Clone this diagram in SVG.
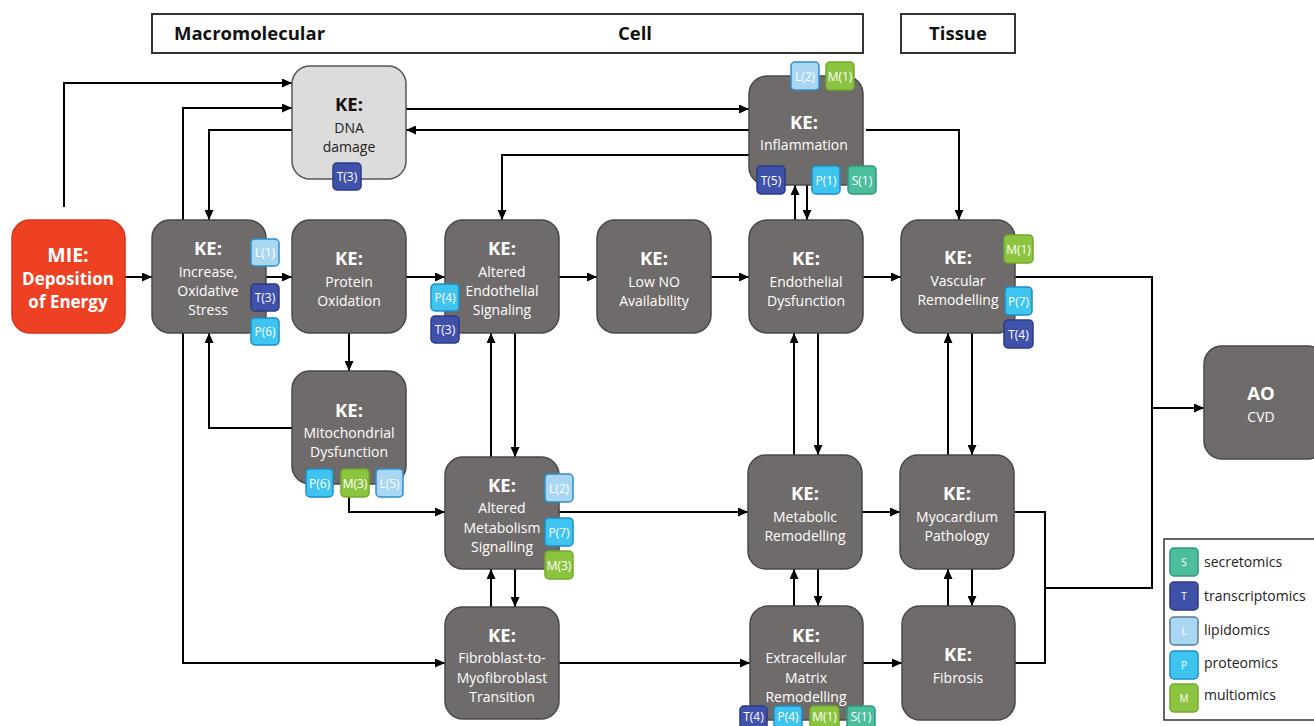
<svg xmlns="http://www.w3.org/2000/svg" width="1314" height="726" viewBox="0 0 1314 726">
<defs>
<marker id="ah" markerWidth="10" markerHeight="9" refX="10" refY="4.5" orient="auto" markerUnits="userSpaceOnUse">
<path d="M0,0 L10,4.5 L0,9 z" fill="#000"/>
</marker>
<style>
.hdr{fill:#fff;stroke:#333;stroke-width:2}
.ht{font-family:"Open Sans","Liberation Sans",sans-serif;font-weight:bold;font-size:18.5px;fill:#111}
.node{fill:#6f6b6a;stroke:#4a4848;stroke-width:1.5}
.dna{fill:#dcdcdc;stroke:#555;stroke-width:1.5}
.mie{fill:#ee4023;stroke:#d8361a;stroke-width:1.5}
.ke{font-family:"Open Sans","Liberation Sans",sans-serif;font-weight:bold;font-size:18.5px;fill:#fff;text-anchor:middle}
.tx{font-family:"Open Sans","Liberation Sans",sans-serif;font-size:14px;fill:#fff;text-anchor:middle}
.kd{font-family:"Open Sans","Liberation Sans",sans-serif;font-weight:bold;font-size:18.5px;fill:#111;text-anchor:middle}
.td{font-family:"Open Sans","Liberation Sans",sans-serif;font-size:14px;fill:#222;text-anchor:middle}
.mt{font-family:"Open Sans","Liberation Sans",sans-serif;font-weight:bold;fill:#fff;text-anchor:middle}
.bS{fill:#4dbe9d;stroke:#2e9a7b;stroke-width:1.5}
.bT{fill:#3f51a8;stroke:#2b3a8a;stroke-width:1.5}
.bL{fill:#a9d6f2;stroke:#2c8fd0;stroke-width:1.5}
.bP{fill:#3ec4ef;stroke:#1c8fc8;stroke-width:1.5}
.bM{fill:#8dc43f;stroke:#72aa2a;stroke-width:1.5}
.bt{font-family:"Open Sans","Liberation Sans",sans-serif;font-size:12px;fill:#fff;text-anchor:middle}
.lt{font-family:"Open Sans","Liberation Sans",sans-serif;font-size:14px;fill:#222}
.ll{font-family:"Open Sans","Liberation Sans",sans-serif;font-size:10px;fill:#fff;text-anchor:middle}
.c{fill:none;stroke:#000;stroke-width:2}
.ca{fill:none;stroke:#000;stroke-width:2;marker-end:url(#ah)}
</style>
</defs>
<rect width="1314" height="726" fill="#fff"/>

<g id="headers">
<rect class="hdr" x="152" y="14" width="711" height="39"/>
<text class="ht" x="174" y="40">Macromolecular</text>
<text class="ht" x="635" y="40" text-anchor="middle">Cell</text>
<rect class="hdr" x="901" y="14" width="114" height="39"/>
<text class="ht" x="958" y="40" text-anchor="middle">Tissue</text>
</g>

<g id="connectors">
<polyline class="ca" points="64,207 64,83 292,83"/>
<polyline class="ca" points="183,220 183,108 292,108"/>
<polyline class="ca" points="292,130 209,130 209,220"/>
<line class="ca" x1="125" y1="277" x2="152" y2="277"/>
<line class="ca" x1="266" y1="277" x2="292" y2="277"/>
<line class="ca" x1="406" y1="277" x2="445" y2="277"/>
<line class="ca" x1="559" y1="277" x2="597" y2="277"/>
<line class="ca" x1="711" y1="277" x2="749" y2="277"/>
<line class="ca" x1="863" y1="277" x2="901" y2="277"/>
<line class="ca" x1="406" y1="109" x2="749" y2="109"/>
<line class="ca" x1="749" y1="130" x2="406" y2="130"/>
<polyline class="ca" points="749,155 502,155 502,220"/>
<line class="ca" x1="795" y1="220" x2="795" y2="185"/>
<line class="ca" x1="807" y1="185" x2="807" y2="220"/>
<polyline class="ca" points="866,130 959,130 959,220"/>
<polyline class="c" points="1015,277 1152,277 1152,588 1045,588"/>
<line class="ca" x1="1152" y1="408" x2="1204" y2="408"/>
<polyline class="c" points="1015,512 1045,512 1045,663 1015,663"/>
<line class="ca" x1="349" y1="333" x2="349" y2="371"/>
<polyline class="ca" points="292,428 209,428 209,333"/>
<polyline class="ca" points="349,497 349,512 445,512"/>
<polyline class="ca" points="183,333 183,663 445,663"/>
<line class="ca" x1="491" y1="457" x2="491" y2="333"/>
<line class="ca" x1="515" y1="333" x2="515" y2="457"/>
<line class="ca" x1="491" y1="607" x2="491" y2="569"/>
<line class="ca" x1="515" y1="569" x2="515" y2="607"/>
<line class="ca" x1="559" y1="512" x2="748" y2="512"/>
<line class="ca" x1="559" y1="663" x2="750" y2="663"/>
<line class="ca" x1="794" y1="455" x2="794" y2="333"/>
<line class="ca" x1="818" y1="333" x2="818" y2="455"/>
<line class="ca" x1="794" y1="606" x2="794" y2="569"/>
<line class="ca" x1="818" y1="569" x2="818" y2="606"/>
<line class="ca" x1="862" y1="512" x2="900" y2="512"/>
<line class="ca" x1="863" y1="663" x2="902" y2="663"/>
<line class="ca" x1="948" y1="455" x2="948" y2="333"/>
<line class="ca" x1="972" y1="333" x2="972" y2="455"/>
<line class="ca" x1="948" y1="606" x2="948" y2="569"/>
<line class="ca" x1="972" y1="569" x2="972" y2="606"/>
</g>

<g id="mie">
<rect class="mie" x="12" y="220" width="113" height="113" rx="18"/>
<text class="mt" x="68" y="262" font-size="19.5px">MIE:</text>
<text class="mt" x="68" y="285" font-size="17px">Deposition</text>
<text class="mt" x="68" y="308" font-size="17px">of Energy</text>
</g>

<g id="ke-oxidative-stress">
<rect class="node" x="152" y="220" width="114" height="113" rx="18"/>
<text class="ke" x="208" y="255">KE:</text>
<text class="tx" x="208" y="277">Increase,</text>
<text class="tx" x="208" y="296">Oxidative</text>
<text class="tx" x="208" y="315">Stress</text>
<rect class="bL" x="251" y="239" width="28" height="27" rx="4"/><text class="bt" x="265" y="257">L(1)</text>
<rect class="bT" x="251" y="284" width="28" height="27" rx="4"/><text class="bt" x="265" y="302">T(3)</text>
<rect class="bP" x="251" y="318" width="28" height="27" rx="4"/><text class="bt" x="265" y="336">P(6)</text>
</g>

<g id="ke-dna-damage">
<rect class="dna" x="292" y="66" width="114" height="113" rx="18"/>
<text class="kd" x="349" y="111">KE:</text>
<text class="td" x="349" y="133">DNA</text>
<text class="td" x="349" y="152">damage</text>
<rect class="bT" x="333" y="163" width="28" height="27" rx="4"/><text class="bt" x="347" y="181">T(3)</text>
</g>

<g id="ke-protein-oxidation">
<rect class="node" x="292" y="220" width="114" height="113" rx="18"/>
<text class="ke" x="349" y="265">KE:</text>
<text class="tx" x="349" y="287">Protein</text>
<text class="tx" x="349" y="306">Oxidation</text>
</g>

<g id="ke-altered-endothelial">
<rect class="node" x="445" y="220" width="114" height="113" rx="18"/>
<text class="ke" x="502" y="255">KE:</text>
<text class="tx" x="502" y="277">Altered</text>
<text class="tx" x="502" y="296">Endothelial</text>
<text class="tx" x="502" y="315">Signaling</text>
<rect class="bP" x="431" y="284" width="28" height="27" rx="4"/><text class="bt" x="445" y="302">P(4)</text>
<rect class="bT" x="431" y="316" width="28" height="27" rx="4"/><text class="bt" x="445" y="334">T(3)</text>
</g>

<g id="ke-low-no">
<rect class="node" x="597" y="220" width="114" height="113" rx="18"/>
<text class="ke" x="654" y="265">KE:</text>
<text class="tx" x="654" y="287">Low NO</text>
<text class="tx" x="654" y="306">Availability</text>
</g>

<g id="ke-endothelial-dysfunction">
<rect class="node" x="749" y="220" width="114" height="113" rx="18"/>
<text class="ke" x="806" y="265">KE:</text>
<text class="tx" x="806" y="287">Endothelial</text>
<text class="tx" x="806" y="306">Dysfunction</text>
</g>

<g id="ke-inflammation">
<rect class="node" x="749" y="76" width="114" height="109" rx="18"/>
<text class="ke" x="804" y="129">KE:</text>
<text class="tx" x="804" y="150">Inflammation</text>
<rect class="bL" x="791" y="62" width="28" height="28" rx="4"/><text class="bt" x="805" y="81">L(2)</text>
<rect class="bM" x="826" y="62" width="28" height="28" rx="4"/><text class="bt" x="840" y="81">M(1)</text>
<rect class="bT" x="757" y="166" width="28" height="28" rx="4"/><text class="bt" x="771" y="185">T(5)</text>
<rect class="bP" x="812" y="166" width="28" height="28" rx="4"/><text class="bt" x="826" y="185">P(1)</text>
<rect class="bS" x="848" y="166" width="28" height="28" rx="4"/><text class="bt" x="862" y="185">S(1)</text>
</g>

<g id="ke-vascular-remodelling">
<rect class="node" x="901" y="220" width="114" height="113" rx="18"/>
<text class="ke" x="958" y="264">KE:</text>
<text class="tx" x="958" y="286">Vascular</text>
<text class="tx" x="958" y="305">Remodelling</text>
<rect class="bM" x="1004" y="235" width="29" height="28" rx="4"/><text class="bt" x="1018.5" y="254">M(1)</text>
<rect class="bP" x="1005" y="287" width="27" height="28" rx="4"/><text class="bt" x="1018.5" y="306">P(7)</text>
<rect class="bT" x="1004" y="320" width="29" height="28" rx="4"/><text class="bt" x="1018.5" y="339">T(4)</text>
</g>

<g id="ao-cvd">
<rect class="node" x="1204" y="346" width="122" height="113" rx="18"/>
<text class="ke" x="1261" y="400">AO</text>
<text class="tx" x="1261" y="422">CVD</text>
</g>

<g id="ke-mitochondrial-dysfunction">
<rect class="node" x="292" y="371" width="114" height="113" rx="18"/>
<text class="ke" x="349" y="417">KE:</text>
<text class="tx" x="349" y="438">Mitochondrial</text>
<text class="tx" x="349" y="457">Dysfunction</text>
<rect class="bP" x="306" y="469" width="27" height="28" rx="4"/><text class="bt" x="319.5" y="488">P(6)</text>
<rect class="bM" x="341" y="469" width="28" height="28" rx="4"/><text class="bt" x="355" y="488">M(3)</text>
<rect class="bL" x="376" y="469" width="27" height="28" rx="4"/><text class="bt" x="389.5" y="488">L(5)</text>
</g>

<g id="ke-altered-metabolism">
<rect class="node" x="445" y="457" width="114" height="112" rx="18"/>
<text class="ke" x="502" y="492">KE:</text>
<text class="tx" x="502" y="513">Altered</text>
<text class="tx" x="502" y="533">Metabolism</text>
<text class="tx" x="502" y="552">Signalling</text>
<rect class="bL" x="545" y="474" width="28" height="28" rx="4"/><text class="bt" x="559" y="493">L(2)</text>
<rect class="bP" x="545" y="518" width="28" height="28" rx="4"/><text class="bt" x="559" y="537">P(7)</text>
<rect class="bM" x="545" y="551" width="28" height="28" rx="4"/><text class="bt" x="559" y="570">M(3)</text>
</g>

<g id="ke-fibroblast">
<rect class="node" x="445" y="607" width="114" height="112" rx="18"/>
<text class="ke" x="502" y="642">KE:</text>
<text class="tx" x="502" y="663">Fibroblast-to-</text>
<text class="tx" x="502" y="683">Myofibroblast</text>
<text class="tx" x="502" y="702">Transition</text>
</g>

<g id="ke-metabolic-remodelling">
<rect class="node" x="748" y="455" width="114" height="114" rx="18"/>
<text class="ke" x="805" y="500">KE:</text>
<text class="tx" x="805" y="522">Metabolic</text>
<text class="tx" x="805" y="541">Remodelling</text>
</g>

<g id="ke-myocardium">
<rect class="node" x="900" y="455" width="114" height="114" rx="18"/>
<text class="ke" x="957" y="500">KE:</text>
<text class="tx" x="957" y="522">Myocardium</text>
<text class="tx" x="957" y="541">Pathology</text>
</g>

<g id="ke-ecm">
<rect class="node" x="750" y="606" width="113" height="114" rx="18"/>
<text class="ke" x="806" y="642">KE:</text>
<text class="tx" x="806" y="663">Extracellular</text>
<text class="tx" x="806" y="683">Matrix</text>
<text class="tx" x="806" y="702">Remodelling</text>
<rect class="bT" x="740" y="706" width="27" height="28" rx="4"/><text class="bt" x="753.5" y="721">T(4)</text>
<rect class="bP" x="774" y="706" width="28" height="28" rx="4"/><text class="bt" x="788" y="721">P(4)</text>
<rect class="bM" x="810" y="706" width="29" height="28" rx="4"/><text class="bt" x="824.5" y="721">M(1)</text>
<rect class="bS" x="847" y="706" width="28" height="28" rx="4"/><text class="bt" x="861" y="721">S(1)</text>
</g>

<g id="ke-fibrosis">
<rect class="node" x="902" y="606" width="113" height="114" rx="18"/>
<text class="ke" x="958" y="661">KE:</text>
<text class="tx" x="958" y="683">Fibrosis</text>
</g>

<g id="legend">
<rect x="1164" y="539" width="156" height="181" fill="#fff" stroke="#333" stroke-width="1.5"/>
<rect class="bS" x="1170" y="548" width="28" height="28" rx="4"/><text class="ll" x="1184" y="566">S</text>
<text class="lt" x="1204" y="567">secretomics</text>
<rect class="bT" x="1170" y="582" width="28" height="28" rx="4"/><text class="ll" x="1184" y="600">T</text>
<text class="lt" x="1204" y="601">transcriptomics</text>
<rect class="bL" x="1170" y="617" width="28" height="28" rx="4" style="stroke:#5a7a90"/><text class="ll" x="1184" y="635">L</text>
<text class="lt" x="1204" y="635">lipidomics</text>
<rect class="bP" x="1170" y="651" width="28" height="28" rx="4"/><text class="ll" x="1184" y="669">P</text>
<text class="lt" x="1204" y="668">proteomics</text>
<rect class="bM" x="1170" y="684" width="28" height="28" rx="4"/><text class="ll" x="1184" y="702">M</text>
<text class="lt" x="1204" y="700">multiomics</text>
</g>
</svg>
